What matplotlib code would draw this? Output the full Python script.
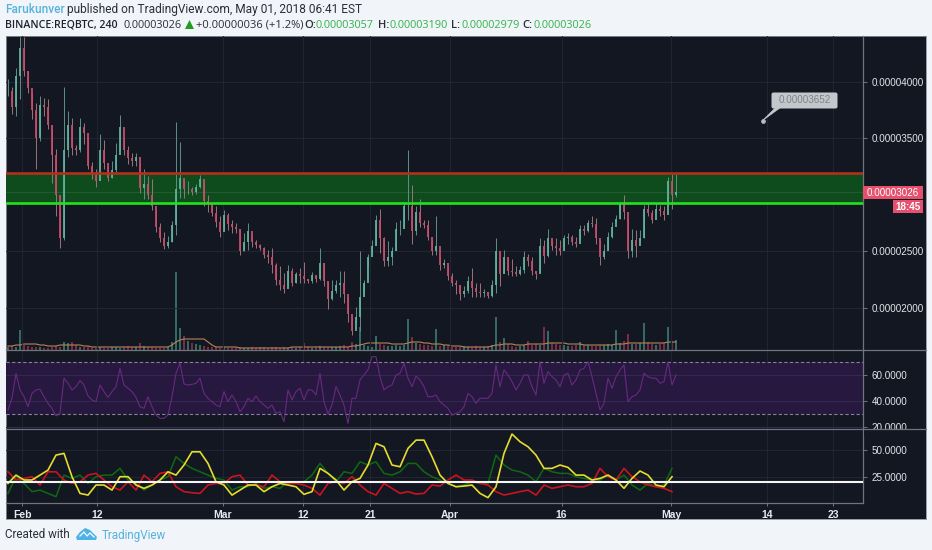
import numpy as np
import matplotlib
matplotlib.use("Agg")
import matplotlib.pyplot as plt
from matplotlib.patches import FancyBboxPatch, Rectangle, Polygon

W, H = 932, 550
BG = "#131722"
GRID = "#212531"
SEP = "#70747c"

# candle series, in 1e-5 BTC, one bar per step
highs = [4.03,3.96,4.12,4.40,4.40,4.10,3.90,3.81,3.88,3.86,
 3.85,3.58,3.41,2.88,3.96,3.74,3.68,3.44,3.68,3.64,
 3.50,3.29,3.23,3.54,3.49,3.26,3.30,3.46,3.71,3.49,
 3.43,3.37,3.37,3.29,3.23,3.17,3.14,2.87,2.75,2.67,
 2.64,2.77,3.65,3.47,3.13,3.12,3.07,3.10,3.18,3.10,
 3.00,2.91,2.90,2.81,2.87,2.84,2.78,2.75,2.69,2.66,
 2.75,2.63,2.60,2.57,2.54,2.51,2.53,2.40,2.37,2.31,
 2.38,2.35,2.32,2.35,2.41,2.26,2.32,2.29,2.53,2.40,
 2.23,2.25,2.25,2.33,2.33,2.10,1.92,2.01,2.50,2.25,
 2.48,2.60,2.82,2.88,2.63,2.59,2.54,2.76,2.78,2.94,
 3.40,3.09,2.90,2.96,2.78,2.78,2.60,2.81,2.46,2.43,
 2.38,2.31,2.25,2.20,2.19,2.28,2.35,2.22,2.22,2.17,
 2.14,2.25,2.62,2.43,2.51,2.43,2.43,2.37,2.37,2.50,
 2.48,2.45,2.32,2.62,2.60,2.70,2.60,2.62,2.60,2.65,
 2.66,2.65,2.63,2.73,2.73,2.78,2.81,2.80,2.60,2.57,
 2.67,2.76,2.82,2.94,3.00,2.79,2.70,2.69,2.69,2.91,
 2.93,2.87,2.93,2.91,2.90,3.16,3.19,3.19]
lows = [3.88,3.72,3.70,3.85,4.05,3.90,3.67,3.23,3.48,3.70,
 3.58,3.11,2.81,2.53,2.60,3.34,3.35,3.35,3.38,3.45,
 3.23,3.14,3.07,3.23,3.23,3.12,3.15,3.20,3.40,3.35,
 3.27,3.26,3.26,3.02,2.96,2.96,2.87,2.67,2.58,2.52,
 2.53,2.58,2.65,2.97,2.97,3.01,3.00,3.01,3.06,2.90,
 2.85,2.81,2.72,2.63,2.69,2.69,2.66,2.66,2.47,2.50,
 2.51,2.54,2.53,2.51,2.44,2.40,2.31,2.20,2.16,2.13,
 2.19,2.19,2.22,2.22,2.22,2.22,2.22,2.23,2.25,2.19,
 1.99,2.07,2.13,2.10,2.04,1.88,1.76,1.86,1.80,2.13,
 2.37,2.46,2.57,2.49,2.37,2.37,2.38,2.51,2.65,2.72,
 2.78,2.57,2.65,2.72,2.71,2.60,2.47,2.47,2.34,2.35,
 2.25,2.19,2.12,2.07,2.10,2.13,2.10,2.10,2.10,2.10,
 2.09,2.10,2.13,2.19,2.31,2.29,2.28,2.28,2.29,2.31,
 2.37,2.29,2.26,2.31,2.40,2.45,2.51,2.47,2.47,2.54,
 2.57,2.56,2.54,2.60,2.65,2.67,2.72,2.57,2.38,2.43,
 2.51,2.62,2.76,2.79,2.79,2.44,2.45,2.45,2.59,2.62,
 2.81,2.75,2.84,2.81,2.78,2.90,2.88,2.98]
closes = [3.92,3.78,4.05,4.30,4.10,3.95,3.75,3.50,3.80,3.78,
 3.62,3.35,3.00,2.62,3.40,3.62,3.42,3.40,3.60,3.55,
 3.26,3.18,3.12,3.40,3.28,3.15,3.22,3.35,3.60,3.40,
 3.33,3.30,3.34,3.06,3.10,3.00,2.90,2.72,2.62,2.55,
 2.58,2.73,3.05,3.15,3.05,3.05,3.03,3.07,3.14,2.95,
 2.92,2.84,2.76,2.67,2.82,2.74,2.72,2.70,2.50,2.58,
 2.68,2.58,2.56,2.53,2.47,2.45,2.38,2.25,2.20,2.17,
 2.33,2.22,2.30,2.28,2.26,2.24,2.29,2.26,2.40,2.24,
 2.08,2.15,2.20,2.22,2.12,1.95,1.80,1.92,2.10,2.22,
 2.45,2.55,2.78,2.62,2.42,2.45,2.50,2.70,2.70,2.90,
 2.90,2.68,2.85,2.75,2.73,2.63,2.50,2.55,2.38,2.40,
 2.28,2.22,2.20,2.12,2.15,2.24,2.18,2.14,2.13,2.14,
 2.11,2.20,2.50,2.30,2.45,2.33,2.32,2.30,2.34,2.45,
 2.42,2.33,2.30,2.55,2.46,2.62,2.55,2.53,2.50,2.62,
 2.63,2.58,2.57,2.70,2.68,2.75,2.74,2.62,2.45,2.50,
 2.63,2.72,2.79,2.92,2.85,2.50,2.60,2.55,2.62,2.88,
 2.84,2.78,2.88,2.86,2.82,3.12,3.00,3.03]
volumes = [3,4,3,20,5,4,3,3,3,2, 2,3,4,3,8,7,8,5,3,3, 3,2,2,3,2,2,3,3,2,3,
 4,3,3,7,4,3,3,2,2,2, 3,8,78,22,14,9,7,6,5,4, 3,3,3,2,3,2,2,2,3,2,
 2,3,2,3,3,2,3,3,2,3, 2,3,2,3,7,3,2,3,4,3, 3,3,3,4,5,3,8,6,23,5,
 4,3,14,6,5,4,4,5,4,5, 31,13,7,6,5,5,4,21,4,5, 4,3,3,3,4,3,3,4,3,3,
 4,5,33,8,12,6,4,3,4,5, 9,5,6,5,23,19,7,6,5,5, 4,4,5,8,5,5,4,4,5,5,
 6,5,20,7,9,16,6,6,7,27, 8,6,5,6,7,23,9,10]
volume_ma = [4,4,5,5,6,6,6,6,5,5, 4,4,4,5,5,5,5,5,5,4, 4,3,3,3,3,3,3,3,3,3,
 3,3,3,3,3,3,3,3,3,3, 3,5,8,10,11,11,11,11,11,11, 8,5,3,3,3,3,3,3,2,2,
 2,2,2,2,2,2,2,2,2,2, 2,3,3,3,3,3,3,3,3,3, 3,3,3,3,3,3,4,4,5,6,
 7,7,7,7,7,7,6,6,6,6, 7,8,8,8,7,7,6,6,6,5, 5,4,4,4,3,3,3,3,3,3,
 3,4,5,5,6,6,6,5,5,5, 6,6,6,6,6,7,7,7,7,7, 6,6,6,6,5,5,5,5,5,5,
 5,5,6,6,6,7,7,7,7,7, 7,7,7,7,7,8,8,8]
rsi = [33.1,42.1,61.3,48.5,43.3,35.6,45.9,48.5,49,43.3,
 38.2,34.4,28.5,30.5,57.5,53.6,48.5,51,55.7,52.3,
 43.9,40.8,39.5,52.3,47.2,42.8,47.2,51,65.1,52.3,
 49.8,47.2,42.8,35.6,34.4,43.3,35.6,29.2,26.7,26.7,
 29.2,43.3,61.3,69,53.1,52.3,52.8,53.6,57.5,45.9,
 42.1,39.5,36.9,35.6,47.2,39.5,44.6,39.5,31.8,35.6,
 42.1,39.5,43.9,39.5,36.9,34.4,36.9,30.5,31.8,24.1,
 48.5,40.8,47.2,49.8,40.8,48.5,48.5,44.6,61.3,39.5,
 30,36.9,51,44.6,36.9,
 22.8,42.1,42.1,56.2,60,63.9,74.1,74.1,58.7,48.5,
 51,52.3,60,61.3,69,57.5,51,59.2,56.2,51,
 43.3,43.3,44.6,39.5,36.9,34.4,29.2,30.5,31.8,35.6,
 45.9,43.3,38.2,42.1,42.1,42.1,45.9,67.7,51,63.9,
 60,54.9,48.5,53.6,60,60,51,44.6,70.3,53.6,
 62.6,58.7,56.2,51,60,61.3,52.3,56.2,63.9,65.1,
 70.3,58.7,45.9,33.1,38.2,57.5,49.8,58.7,63.9,67.7,
 39.5,43.3,44.6,48.5,61.3,58.7,57.5,57.5,53.6,54.9,
 70.3,52.3,60]
adx = [19,26.8,22.2,22.2,26.8,31.5,45.5,47.1,25.3,9.7,
 8.1,17.5,17.5,12.8,25.3,25.3,17.5,14.4,17.5,22.2,
 29.9,26.8,36.2,48.6,48.6,37.7,20.6,17.5,8.1,12.8,
 17.5,17.5,11.3,15.9,19,17.5,15.9,8.8,11.3,33.1,28.4,22.2,12.8,
 20.6,23.7,36.2,56.4,53.3,36.2,34.6,51.8,59.5,59.5,
 44,26.8,19,15.9,16.5,17.5,9.7,5.7,15.9,47.1,
 65.2,58,53.3,45.5,33.1,33.1,36.2,34,26.8,26.8,
 22.2,23.7,26.8,22.2,14.4,23.7,30.6,26.8,17.5,15.9,25.3]
di_plus = [9.7,25.3,19,11.3,12.8,9.7,6.6,26.8,23.7,26.8,
 19,25.3,26.8,26.8,33.1,22.2,19,12.8,17.5,22.2,
 25.3,44,37.7,33.1,29.9,26.8,23.7,22.2,12.8,15.9,
 15.9,19,14.4,15.9,14.4,20.6,20.6,20.6,26.8,37.7,28.4,20.6,29.9,
 28.4,39.3,36.2,39.3,28.4,26.8,29.9,37.7,37.7,29.9,
 25.3,22.2,19,15.9,17.5,20.6,19,19,45.5,36.2,
 31.5,29.9,26.8,20.6,33.1,29.9,28.4,28.4,25.3,23.7,
 22.2,22.2,26.8,22.2,26.8,17.5,12.8,19,15.9,17.5,33.1]
di_minus = [29.9,22.2,23.7,25.3,17.5,29.9,29.9,22.2,19,20.6,
 26.8,28.4,22.2,15.9,12.8,20.6,12.8,26.8,20.6,28.4,
 29.9,15.9,11.3,10.3,9.7,17.5,19,19,25.3,26.8,
 17.5,17.5,15.9,26.8,20.6,19,19,17.5,14.4,8.1,19,20.6,19,
 25.3,17.5,11.3,8.1,19,14.4,9.7,11.3,9.1,9.7,
 17.5,16.5,22.2,26.8,22.2,22.2,19,17.5,11.3,8.1,
 9.7,11.3,12.8,8.1,17.5,14.4,15.9,17.5,15.9,15.9,
 19,33.1,25.3,22.2,33.1,25.3,20.6,17.5,15.9,14.4,11.3]

resistance = 3.195
support = 2.925
last_price = 3.026
rsi_upper, rsi_lower = 70, 30
adx_level = 20.8

price_ticks = [2.0, 2.5, 3.0, 3.5, 4.0]
price_tick_labels = ["0.00002000", "0.00002500", "", "0.00003500", "0.00004000"]
rsi_ticks = [20, 40, 60]
rsi_tick_labels = ["20.0000", "40.0000", "60.0000"]
adx_ticks = [25, 50]
adx_tick_labels = ["25.0000", "50.0000"]
date_ticks = [3.5, 22.25, 53.7, 73.75, 90.5, 110.5, 138.4, 165.75, 189.7, 206.25]
date_labels = ["Feb", "12", "Mar", "12", "21", "Apr", "16", "May", "14", "23"]

AXFONT = "Liberation Sans"
HEAD = "Open Sans"
HEAD2 = "Roboto"

fig = plt.figure(figsize=(W / 100, H / 100), dpi=100, facecolor="#f1f4f9")

def box(x0, y0, x1, y1, **kw):
    return fig.add_axes([x0 / W, 1 - y1 / H, (x1 - x0) / W, (y1 - y0) / H], **kw)

panel = box(6, 36, 926, 519)
panel.set_facecolor(BG)
panel.set_xticks([]); panel.set_yticks([])
for s in panel.spines.values():
    s.set_color("#8a8e96"); s.set_linewidth(0.6)

X0, X1 = -0.5, 213.75
bars = np.arange(len(closes))
opens = np.array([closes[0]] + closes[:-1])
closes_a = np.array(closes)
up = closes_a >= opens

def style(ax, ticks, labels):
    ax.set_facecolor("none")
    ax.set_xlim(X0, X1)
    ax.set_xticks(date_ticks)
    ax.set_yticks(ticks)
    ax.set_yticklabels(labels, fontname=AXFONT, fontsize=7.1, color="#e4e6ea")
    ax.yaxis.tick_right()
    ax.tick_params(axis="y", length=3, width=0.7, color=SEP, pad=3)
    ax.tick_params(axis="x", length=0, labelbottom=False)
    ax.grid(True, color=GRID, lw=0.8)
    ax.set_axisbelow(True)
    for name, s in ax.spines.items():
        s.set_visible(name == "right")
        s.set_color(SEP); s.set_linewidth(0.9)

# volume lives behind the candles, sharing the price pane
vol = box(6, 36, 863, 350)
vol.set_facecolor("none")
vol.set_xlim(X0, X1); vol.set_ylim(0, 314)
vol.axis("off")
vol.bar(bars, volumes, width=0.5,
        color=["#37746b" if u else "#82304a" for u in up], alpha=0.9)
vol.plot(bars, volume_ma, color="#b98258", lw=0.8)

price = box(6, 36, 863, 350)
style(price, price_ticks, price_tick_labels)
price.set_ylim(1.628, 4.407)
price.axhspan(support, resistance, color="#0e4c1e", lw=0, zorder=1)
price.axhline(last_price, color="#2b6238", lw=0.5, zorder=1.1)
price.vlines(bars[up], np.array(lows)[up], np.array(highs)[up], color="#5f8f88", lw=0.7, zorder=2)
price.vlines(bars[~up], np.array(lows)[~up], np.array(highs)[~up], color="#9c7479", lw=0.7, zorder=2)
price.bar(bars[up], (closes_a - opens)[up], bottom=opens[up], width=0.34, color="#5fb39c", zorder=3, alpha=0.9)
price.bar(bars[~up], (closes_a - opens)[~up], bottom=opens[~up], width=0.34, color="#c94c6c", zorder=3, alpha=0.9)
price.axhline(resistance, color="#b3301a", lw=1.9, zorder=4)
price.axhline(support, color="#22e21f", lw=1.9, zorder=4)

rsi_ax = box(6, 350, 863, 429)
style(rsi_ax, rsi_ticks, rsi_tick_labels)
rsi_ax.set_ylim(18.5, 79.2)
rsi_ax.axhspan(rsi_lower, rsi_upper, color="#27183f", lw=0, zorder=1)
for lvl in (rsi_upper, rsi_lower):
    rsi_ax.axhline(lvl, color="#8a7f9e", lw=0.8, ls=(0, (3, 2)), zorder=2)
for t in rsi_ticks:
    rsi_ax.axhline(t, color="#35274f", lw=0.8, zorder=1.5)
rsi_ax.plot(bars[:len(rsi)], rsi, color="#672a80", lw=0.8, zorder=3)

adx_ax = box(6, 429, 863, 503)
style(adx_ax, adx_ticks, adx_tick_labels)
adx_ax.set_ylim(0.7, 69.9)
adx_x = bars[::2][:len(adx)]
adx_ax.plot(adx_x, di_plus, color="#0e6a12", lw=1.1, zorder=3)
adx_ax.plot(adx_x, di_minus, color="#c9141f", lw=1.2, zorder=3.1)
adx_ax.plot(adx_x, adx, color="#e6dc2e", lw=1.2, zorder=3.2)
adx_ax.axhline(adx_level, color="#f4f4f4", lw=1.5, zorder=4)
adx_ax.spines["bottom"].set_visible(True)
adx_ax.spines["bottom"].set_color(SEP)
adx_ax.spines["bottom"].set_linewidth(0.9)
adx_ax.set_xticklabels(date_labels)
adx_ax.tick_params(axis="x", labelbottom=True, length=2, width=0.7, color=SEP, pad=3,
                   labelcolor="#e8eaee", labelsize=7.5)
for lab in adx_ax.get_xticklabels():
    lab.set_fontname(AXFONT); lab.set_fontweight("bold")

# overlay in picture coordinates for header, tags, callout and footer
ov = fig.add_axes([0, 0, 1, 1], zorder=20)
ov.set_xlim(0, W); ov.set_ylim(H, 0); ov.axis("off"); ov.patch.set_alpha(0)

for y in (350, 429):
    ov.plot([6, 926], [y, y], color=SEP, lw=0.9)
ov.add_patch(Rectangle((864, 429.6), 60, 6, color=BG, lw=0))

ov.add_patch(Rectangle((863, 186), 60, 13, color="#e5506d", lw=0))
ov.text(893, 192.8, "0.00003026", color="white", fontsize=7.1, fontname=AXFONT, ha="center", va="center")
ov.add_patch(Rectangle((893, 200), 30, 13, color="#e5506d", lw=0))
ov.text(908, 206.8, "18:45", color="white", fontsize=7.1, fontname=AXFONT, fontweight="bold", ha="center", va="center")

ov.add_patch(FancyBboxPatch((773, 94), 63, 13, boxstyle="round,pad=1.5,rounding_size=2", fc="#c3c7cb", ec="none"))
ov.add_patch(Polygon([[762, 121], [775, 108], [780, 108]], fc="#c3c7cb", ec="#c3c7cb", lw=0.4))
ov.plot([762.5], [121], "o", ms=2.4, color="#b8bcc0")
ov.text(804.5, 99.7, "0.00003652", color="#7c838a", fontsize=7.1, fontname=AXFONT, ha="center", va="center")

DARK = "#2a2e39"
GREEN = "#33b34a"
BLUE = "#55b4de"
ov.text(5, 9.5, "Farukunver", color=BLUE, fontsize=8.6, fontname=HEAD2, fontweight="medium", va="center")
ov.text(67, 9.5, "published on TradingView.com, May 01, 2018 06:41 EST", color=DARK, fontsize=8.6, fontname=HEAD2, va="center")
ov.text(5, 25, "BINANCE:REQBTC, 240", color="#1e222d", fontsize=7.6, fontname=HEAD, fontweight="semibold", va="center")
ov.text(124, 25, "0.00003026", color=DARK, fontsize=7.8, fontname=HEAD, va="center")
ov.add_patch(Polygon([[185, 29], [194, 29], [189.5, 20]], fc="#1f9e1f", ec="none"))
ov.text(196, 25, "+0.00000036 (+1.2%)", color=DARK, fontsize=8.0, fontname=HEAD, va="center")
for lx, lab, vx, val in [(304, "O:", 316, "0.00003057"), (378, "H:", 390, "0.00003190"),
                         (451, "L:", 461, "0.00002979"), (522, "C:", 534, "0.00003026")]:
    ov.text(lx, 25, lab, color=DARK, fontsize=8.0, fontname=HEAD, fontweight="semibold", va="center")
    ov.text(vx, 25, val, color=GREEN, fontsize=7.8, fontname=HEAD, va="center")

ov.text(5, 535, "Created with", color=DARK, fontsize=8.4, fontname=HEAD2, va="center")
ov.add_patch(Polygon([[76, 537], [80, 532], [85, 528], [90, 530], [94, 534], [97, 537], [96, 540], [77, 540]],
                     fc="#4db2e6", ec="none"))
ov.plot([80, 84, 87, 90, 94], [536, 532, 536, 533, 537], color="white", lw=0.9)
ov.text(102, 535, "TradingView", color=BLUE, fontsize=8.4, fontname=HEAD2, va="center")

fig.savefig("out.png", dpi=100, facecolor=fig.get_facecolor())
